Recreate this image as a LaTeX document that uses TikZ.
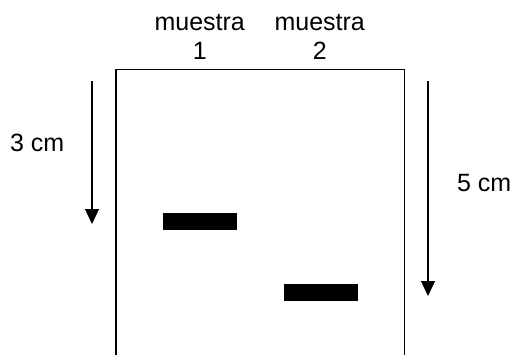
\documentclass[tikz,border=0pt]{standalone}
\usepackage{fontspec}
\setmainfont{Liberation Sans}
\usetikzlibrary{arrows.meta}
\begin{document}
\begin{tikzpicture}[x=1pt,y=-1pt,
  lbl/.style={font=\fontsize{25}{29}\selectfont, inner sep=0pt, align=center},
  band/.style={fill=black, draw=none, minimum width=74pt, minimum height=17pt, inner sep=0pt},
  gelline/.style={line width=1.3pt},
  migr/.style={line width=1.3pt, -{Triangle[width=14pt,length=15pt]}}]
\useasboundingbox (0,0) rectangle (513,354);
\clip (0,0) rectangle (513,354);
\draw[gelline] (116,360) -- (116,69.5) -- (404.5,69.5) -- (404.5,360);
\node[band] (b1) at (200.3,221) {};
\node[band] (b2) at (320.5,292.8) {};
\node[lbl, anchor=base] (m1) at (199.7,59.3) {muestra\\1};
\node[lbl, anchor=base] (m2) at (319.7,59.3) {muestra\\2};
\node[lbl, anchor=base] (d1) at (37.2,151.7) {3 cm};
\node[lbl, anchor=base] (d2) at (484.2,191.7) {5 cm};
\coordinate (a1s) at (92,81);
\coordinate (a1e) at (92,224);
\coordinate (a2s) at (428,81);
\coordinate (a2e) at (428,296);
\draw[migr] (a1s) -- (a1e);
\draw[migr] (a2s) -- (a2e);
\end{tikzpicture}
\end{document}
